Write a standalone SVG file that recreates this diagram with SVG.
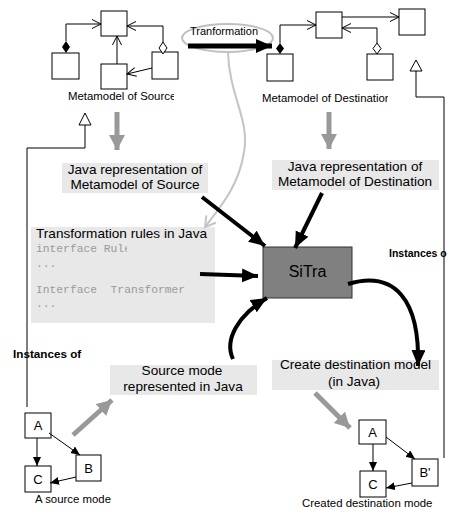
<svg xmlns="http://www.w3.org/2000/svg" width="452" height="509" viewBox="0 0 452 509">
<style>
text{font-family:"Liberation Sans",Arial,sans-serif;fill:#000}
.lbl{font-size:11.4px}
.box{fill:#e8e8e8;stroke:none}
.jt{font-size:13.6px;text-anchor:middle}
.mono{font-family:"Liberation Mono","Courier New",monospace;font-size:11.3px;fill:#9a9a9a;white-space:pre}
.cls{fill:#fff;stroke:#000;stroke-width:1}
.ln{fill:none;stroke:#000;stroke-width:1}
.thick{fill:none;stroke:#000;stroke-width:4}
.gray{fill:none;stroke:#999;stroke-width:5}
.inst{font-size:11.7px;font-weight:bold}
.nd{font-size:13px;text-anchor:middle}
</style>
<defs>
<marker id="open" markerUnits="userSpaceOnUse" markerWidth="12" markerHeight="12" refX="10" refY="6" orient="auto"><path d="M1,1.5 L10,6 L1,10.5" fill="none" stroke="#000" stroke-width="1"/></marker>
<marker id="small" markerUnits="userSpaceOnUse" markerWidth="10" markerHeight="10" refX="9" refY="4" orient="auto"><path d="M0,0 L9,4 L0,8 z" fill="#000"/></marker>
<marker id="big" markerUnits="userSpaceOnUse" markerWidth="18" markerHeight="16" refX="16" refY="7" orient="auto"><path d="M0,0 L16,7 L0,14 z" fill="#000"/></marker>
<marker id="gbig" markerUnits="userSpaceOnUse" markerWidth="18" markerHeight="18" refX="15" refY="8" orient="auto"><path d="M0,0 L15,8 L0,16 z" fill="#999"/></marker>
<marker id="gopen" markerUnits="userSpaceOnUse" markerWidth="14" markerHeight="14" refX="11" refY="7" orient="auto"><path d="M1,1 L11,7 L1,13" fill="none" stroke="#c4c4c4" stroke-width="2"/></marker>
<clipPath id="c1"><rect x="0" y="85" width="174" height="20"/></clipPath>
<clipPath id="c2"><rect x="250" y="85" width="138" height="20"/></clipPath>
<clipPath id="c4"><rect x="30" y="240" width="97" height="16"/></clipPath>
</defs>

<g id="metamodel-source">
<rect class="cls" x="101" y="11" width="26" height="25"/>
<rect class="cls" x="52" y="53" width="27" height="26"/>
<rect class="cls" x="101" y="64" width="26" height="25"/>
<rect class="cls" x="152" y="52" width="26" height="27"/>
<polyline class="ln" points="66,41 66,24 101,24" marker-end="url(#open)"/>
<polygon points="66,41 70,47 66,53 62,47" fill="#000"/>
<polyline class="ln" points="163,42 163,26 127,26" marker-end="url(#open)"/>
<polygon points="163,42 167,48 163,54 159,48" fill="#fff" stroke="#000" stroke-width="1"/>
<line class="ln" x1="117" y1="64" x2="117" y2="36" marker-end="url(#open)"/>
<line class="ln" x1="152" y1="68" x2="127" y2="74" marker-end="url(#open)"/>
<text class="lbl" x="68" y="100" clip-path="url(#c1)">Metamodel of Source</text>
</g>

<g id="metamodel-destination">
<rect class="cls" x="316" y="12" width="26" height="26"/>
<rect class="cls" x="399" y="9" width="26" height="26"/>
<rect class="cls" x="267" y="54" width="26" height="27"/>
<rect class="cls" x="367" y="54" width="26" height="26"/>
<polyline class="ln" points="280,43 280,25 316,25" marker-end="url(#open)"/>
<polygon points="280,43 284,48.5 280,54 276,48.5" fill="#000"/>
<line class="ln" x1="342" y1="17" x2="399" y2="17" marker-end="url(#open)"/>
<polyline class="ln" points="377,43 377,28 342,28" marker-end="url(#open)"/>
<polygon points="377,43 381,48.5 377,54 373,48.5" fill="#fff" stroke="#000" stroke-width="1"/>
<text class="lbl" x="262" y="102" clip-path="url(#c2)">Metamodel of Destination</text>
</g>

<g id="transformation">
<ellipse cx="227.5" cy="38" rx="45.5" ry="14" fill="none" stroke="#c0c0c0" stroke-width="2"/>
<text x="224" y="35" font-size="11px" text-anchor="middle">Tranformation</text>
</g>

<g id="java-source">
<rect class="box" x="62" y="163" width="146" height="30"/>
<text class="jt" x="135" y="174">Java representation of</text>
<text class="jt" x="135" y="189">Metamodel of Source</text>
</g>

<g id="java-destination">
<rect class="box" x="272" y="160" width="167" height="30"/>
<text class="jt" x="355" y="171">Java representation of</text>
<text class="jt" x="355" y="186">Metamodel of Destination</text>
</g>

<g id="rules">
<rect class="box" x="31" y="227" width="184" height="96"/>
<text x="36" y="238" font-size="13.6px">Transformation rules in Java</text>
<text class="mono" x="36" y="252" clip-path="url(#c4)">interface Rule</text>
<text class="mono" x="36" y="267">...</text>
<text class="mono" x="36" y="293" xml:space="preserve">Interface  Transformer</text>
<text class="mono" x="36" y="307">...</text>
</g>

<g id="sitra">
<rect x="263" y="247" width="89" height="51" fill="#808080" stroke="#333" stroke-width="1"/>
<text x="307.5" y="277" font-size="16px" text-anchor="middle">SiTra</text>
</g>

<g id="source-java">
<rect class="box" x="110" y="365" width="147" height="30"/>
<text class="jt" x="182" y="375">Source mode</text>
<text class="jt" x="183" y="391">represented in Java</text>
</g>

<g id="create-destination">
<rect class="box" x="272" y="360" width="167" height="30"/>
<text class="jt" x="355.5" y="369">Create destination model</text>
<text class="jt" x="354" y="386">(in Java)</text>
</g>

<g id="source-model">
<rect class="cls" x="25" y="413" width="26" height="25"/>
<rect class="cls" x="76" y="455" width="25" height="26"/>
<rect class="cls" x="25" y="466" width="26" height="26"/>
<text class="nd" x="38" y="430">A</text>
<text class="nd" x="88.5" y="473">B</text>
<text class="nd" x="38" y="484">C</text>
<line class="ln" x1="37" y1="438" x2="37" y2="466" marker-end="url(#small)"/>
<line class="ln" x1="49" y1="433" x2="80" y2="455" marker-end="url(#small)"/>
<line class="ln" x1="76" y1="477" x2="50" y2="483" marker-end="url(#small)"/>
<text class="lbl" x="35" y="503">A source mode</text>
</g>

<g id="destination-model">
<rect class="cls" x="359" y="420" width="27" height="24"/>
<rect class="cls" x="412" y="459" width="26" height="27"/>
<rect class="cls" x="360" y="471" width="26" height="26"/>
<text class="nd" x="372.5" y="437">A</text>
<text class="nd" x="425" y="477">B'</text>
<text class="nd" x="373" y="489">C</text>
<line class="ln" x1="373" y1="444" x2="373" y2="471" marker-end="url(#small)"/>
<line class="ln" x1="386" y1="437" x2="415" y2="459" marker-end="url(#small)"/>
<line class="ln" x1="412" y1="483" x2="386" y2="488" marker-end="url(#small)"/>
<text class="lbl" x="302" y="507">Created destination mode</text>
</g>

<g id="connectors">
<line x1="188" y1="46" x2="272" y2="46" stroke="#000" stroke-width="5" marker-end="url(#big)"/>
<path d="M228,52 C229,95 250,120 244,152 C239,185 222,205 205,227" fill="none" stroke="#c4c4c4" stroke-width="2" marker-end="url(#gopen)"/>
<line class="gray" x1="117" y1="112" x2="117" y2="150" marker-end="url(#gbig)"/>
<line class="gray" x1="329" y1="112" x2="329" y2="149" marker-end="url(#gbig)"/>
<polyline class="ln" points="85,125 85,148 27,148 27,407"/>
<polygon points="85,113 91,125 79,125" fill="#fff" stroke="#000" stroke-width="1"/>
<polyline class="ln" points="416,71 416,97 444,97 444,458"/>
<polygon points="416,60 422,71 410,71" fill="#fff" stroke="#000" stroke-width="1"/>
<line class="thick" x1="202" y1="197" x2="265" y2="246" marker-end="url(#big)"/>
<line class="thick" x1="322" y1="193" x2="295" y2="248" marker-end="url(#big)"/>
<line class="thick" x1="200" y1="274" x2="258" y2="276" marker-end="url(#big)"/>
<path class="thick" d="M233,359 C224,340 238,315 267,298" marker-end="url(#big)"/>
<path class="thick" d="M348,284 C395,270 420,300 418,366" marker-end="url(#big)"/>
<line class="gray" x1="73" y1="435" x2="112" y2="400" marker-end="url(#gbig)"/>
<line class="gray" x1="315" y1="393" x2="350" y2="428" marker-end="url(#gbig)"/>
<text class="inst" x="13" y="358">Instances of</text>
<text x="389" y="257" font-size="10.5px" font-weight="bold">Instances o</text>
</g>
</svg>
